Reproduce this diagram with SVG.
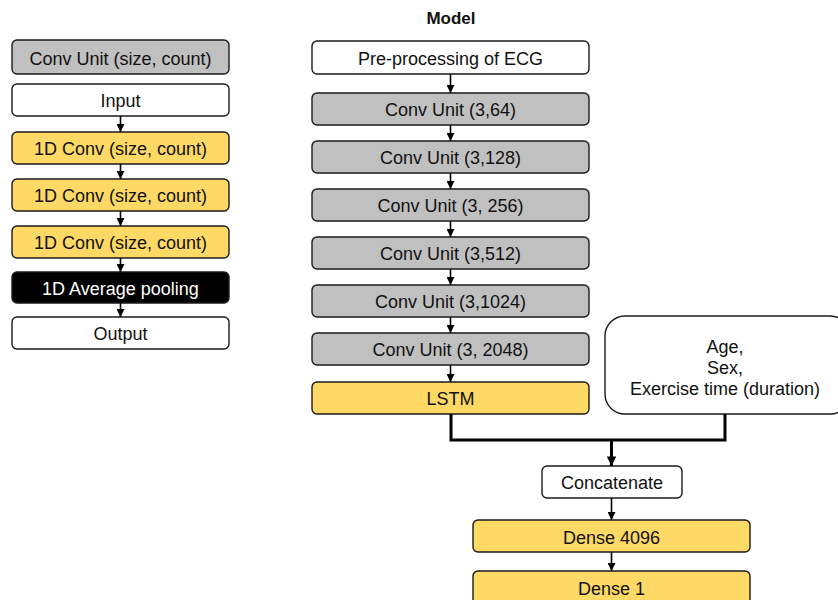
<svg xmlns="http://www.w3.org/2000/svg" width="838" height="600" viewBox="0 0 838 600">
<style>
.box{stroke:#1a1a1a;stroke-width:1.4}
.w{fill:#ffffff}
.g{fill:#c0c0c0}
.y{fill:#ffd966}
.k{fill:#000000}
text{font-family:"Liberation Sans",Arial,sans-serif;font-size:18px;text-anchor:middle;fill:#111}
.wt{fill:#ffffff}
.thin{stroke:#000;stroke-width:1.6;fill:none}
.thick{stroke:#000;stroke-width:3;fill:none}
</style>
<defs>
<marker id="ah" viewBox="0 0 10 10" refX="10" refY="5" markerWidth="5" markerHeight="5" markerUnits="strokeWidth" orient="auto">
<path d="M0,0 L10,5 L0,10 z" fill="#000"/>
</marker>
<marker id="ah2" viewBox="0 0 10 10" refX="10" refY="5" markerWidth="3.2" markerHeight="3.2" markerUnits="strokeWidth" orient="auto">
<path d="M0,0 L10,5 L0,10 z" fill="#000"/>
</marker>
</defs>
<text x="451" y="24" style="font-weight:bold;font-size:17px">Model</text>
<g id="legend-conv-unit"><rect class="box g" x="12" y="40" width="217" height="34" rx="5"/><text x="120.5" y="64.5">Conv Unit (size, count)</text></g>
<g id="input"><rect class="box w" x="12" y="84" width="217" height="32" rx="5"/><text x="120.5" y="107">Input</text></g>
<g id="conv1"><rect class="box y" x="12" y="132" width="217" height="32" rx="5"/><text x="120.5" y="155">1D Conv (size, count)</text></g>
<g id="conv2"><rect class="box y" x="12" y="179" width="217" height="32" rx="5"/><text x="120.5" y="202">1D Conv (size, count)</text></g>
<g id="conv3"><rect class="box y" x="12" y="226" width="217" height="32" rx="5"/><text x="120.5" y="249">1D Conv (size, count)</text></g>
<g id="avgpool"><rect class="box k" x="12" y="272" width="217" height="31" rx="5"/><text class="wt" x="120.5" y="294.5">1D Average pooling</text></g>
<g id="output"><rect class="box w" x="12" y="317" width="217" height="32" rx="5"/><text x="120.5" y="340">Output</text></g>

<g id="preproc"><rect class="box w" x="312" y="41" width="277" height="33" rx="5"/><text x="450.5" y="64.5">Pre-processing of ECG</text></g>
<g id="cu64"><rect class="box g" x="312" y="93" width="277" height="32" rx="5"/><text x="450.5" y="116">Conv Unit (3,64)</text></g>
<g id="cu128"><rect class="box g" x="312" y="141" width="277" height="32" rx="5"/><text x="450.5" y="164">Conv Unit (3,128)</text></g>
<g id="cu256"><rect class="box g" x="312" y="189" width="277" height="32" rx="5"/><text x="450.5" y="212">Conv Unit (3, 256)</text></g>
<g id="cu512"><rect class="box g" x="312" y="237" width="277" height="32" rx="5"/><text x="450.5" y="260">Conv Unit (3,512)</text></g>
<g id="cu1024"><rect class="box g" x="312" y="285" width="277" height="32" rx="5"/><text x="450.5" y="308">Conv Unit (3,1024)</text></g>
<g id="cu2048"><rect class="box g" x="312" y="333" width="277" height="32" rx="5"/><text x="450.5" y="356">Conv Unit (3, 2048)</text></g>
<g id="lstm"><rect class="box y" x="312" y="382" width="277" height="32" rx="5"/><text x="450.5" y="405">LSTM</text></g>
<g id="features"><rect class="box w" x="605" y="316" width="245" height="98" rx="20"/><text x="725" y="352.5">Age,</text><text x="725" y="373.5">Sex,</text><text x="725" y="394.5">Exercise time (duration)</text></g>
<g id="concat"><rect class="box w" x="542" y="466" width="140" height="32" rx="5"/><text x="612" y="489">Concatenate</text></g>
<g id="dense4096"><rect class="box y" x="473" y="520" width="277" height="32" rx="5"/><text x="611.5" y="543.5">Dense 4096</text></g>
<g id="dense1"><rect class="box y" x="473" y="571" width="277" height="40" rx="5"/><text x="611.5" y="594.5">Dense 1</text></g>

<g id="connectors">
<line class="thin" x1="120.5" y1="116" x2="120.5" y2="132" marker-end="url(#ah)"/>
<line class="thin" x1="120.5" y1="164" x2="120.5" y2="179" marker-end="url(#ah)"/>
<line class="thin" x1="120.5" y1="211" x2="120.5" y2="226" marker-end="url(#ah)"/>
<line class="thin" x1="120.5" y1="258" x2="120.5" y2="272" marker-end="url(#ah)"/>
<line class="thin" x1="120.5" y1="303" x2="120.5" y2="317" marker-end="url(#ah)"/>
<line class="thin" x1="450.5" y1="74" x2="450.5" y2="93" marker-end="url(#ah)"/>
<line class="thin" x1="450.5" y1="125" x2="450.5" y2="141" marker-end="url(#ah)"/>
<line class="thin" x1="450.5" y1="173" x2="450.5" y2="189" marker-end="url(#ah)"/>
<line class="thin" x1="450.5" y1="221" x2="450.5" y2="237" marker-end="url(#ah)"/>
<line class="thin" x1="450.5" y1="269" x2="450.5" y2="285" marker-end="url(#ah)"/>
<line class="thin" x1="450.5" y1="317" x2="450.5" y2="333" marker-end="url(#ah)"/>
<line class="thin" x1="450.5" y1="365" x2="450.5" y2="382" marker-end="url(#ah)"/>
<polyline class="thick" points="451,414 451,440 725,440 725,414"/>
<line class="thick" x1="611.5" y1="440" x2="611.5" y2="466" marker-end="url(#ah2)"/>
<line class="thin" x1="611.5" y1="498" x2="611.5" y2="520" marker-end="url(#ah)"/>
<line class="thin" x1="611.5" y1="552" x2="611.5" y2="571" marker-end="url(#ah)"/>
</g>
</svg>
